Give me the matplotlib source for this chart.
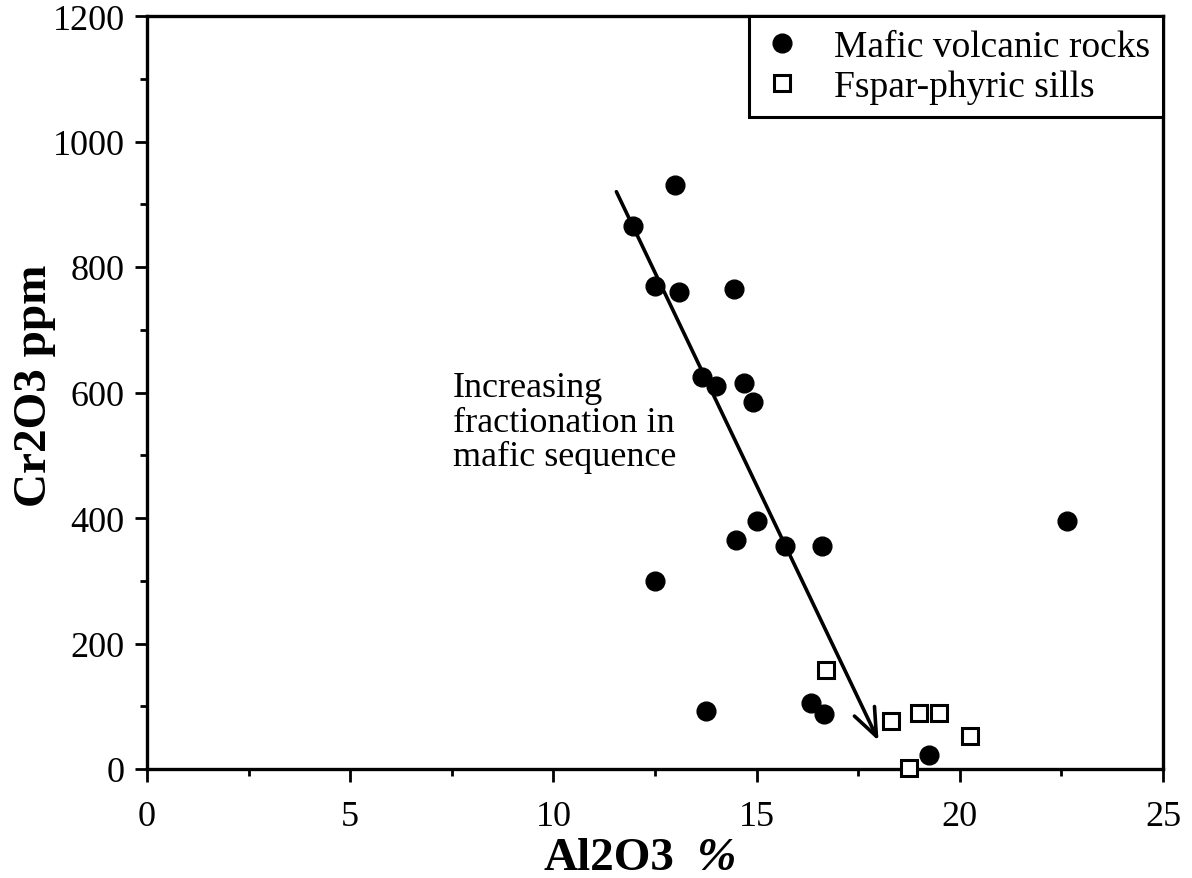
import matplotlib
matplotlib.use("Agg")
import matplotlib.pyplot as plt
from matplotlib.ticker import MultipleLocator

plt.rcParams["font.family"] = ["Liberation Serif", "DejaVu Serif"]

# ── data ───────────────────────────────────────────────────────────────────────
MAFIC_AL2O3 = [13.0, 11.95, 12.5, 13.1, 14.45, 13.65, 14.0, 14.7, 14.9,
               15.0, 14.5, 15.7, 16.6, 12.5, 22.65, 13.75, 16.35, 16.65, 19.25]
MAFIC_CR2O3 = [930, 865, 770, 760, 765, 625, 610, 615, 585,
               395, 365, 355, 355, 300, 395, 92, 105, 88, 22]

SILL_AL2O3 = [16.7, 18.3, 19.0, 19.5, 20.25, 18.75]
SILL_CR2O3 = [158, 76, 90, 90, 52, 2]

ARROW_START = (11.55, 920)
ARROW_END = (18.0, 45)

W, H = 1192, 879
fig = plt.figure(figsize=(W / 100, H / 100), dpi=100)
fig.subplots_adjust(left=147 / W, right=1163 / W, top=1 - 17 / H, bottom=1 - 770 / H)
ax = fig.add_subplot(111)

ax.plot(MAFIC_AL2O3, MAFIC_CR2O3, "o", color="black", markersize=13.5,
        linestyle="none", label="Mafic volcanic rocks", zorder=3)
ax.plot(SILL_AL2O3, SILL_CR2O3, "s", markerfacecolor="white",
        markeredgecolor="black", markeredgewidth=2.2, markersize=12,
        linestyle="none", label="Fspar-phyric sills", zorder=3, clip_on=False)

ax.annotate("", xy=ARROW_END, xytext=ARROW_START,
            arrowprops=dict(arrowstyle="->,head_length=1.0,head_width=0.4",
                            lw=2.6, color="black", shrinkA=0, shrinkB=0,
                            mutation_scale=20))

ax.text(7.53, 634, "Increasing\nfractionation in\nmafic sequence",
        fontsize=26, va="top", ha="left", linespacing=1.06)

ax.set_xlim(0, 25)
ax.set_ylim(0, 1200)
ax.xaxis.set_major_locator(MultipleLocator(5))
ax.xaxis.set_minor_locator(MultipleLocator(2.5))
ax.yaxis.set_major_locator(MultipleLocator(200))
ax.yaxis.set_minor_locator(MultipleLocator(100))
ax.tick_params(which="major", direction="out", length=9, width=2, labelsize=26)
ax.tick_params(axis="x", which="major", pad=13)
ax.tick_params(axis="y", which="major", pad=7)
ax.tick_params(which="minor", direction="out", length=5, width=2)

for s in ax.spines.values():
    s.set_linewidth(2.4)

# axis titles
fig.text(543 / W, 1 - 870 / H, "Al2O3", fontsize=34, fontweight="bold",
         ha="left", va="baseline")
fig.text(697 / W, 1 - 870 / H, "%", fontsize=34, fontweight="bold",
         style="italic", ha="left", va="baseline")
fig.text(35 / W, 1 - 386 / H, "Cr2O3 ppm", fontsize=34, fontweight="bold",
         rotation=90, ha="center", va="center")

leg = ax.legend(loc="upper right", borderaxespad=0, fontsize=27,
                frameon=True, fancybox=False, framealpha=1,
                handletextpad=0.82, borderpad=0.35, labelspacing=0.15,
                handlelength=1.1)
leg.get_frame().set_edgecolor("black")
leg.get_frame().set_linewidth(2.2)

fig.savefig("out.png", dpi=100)
